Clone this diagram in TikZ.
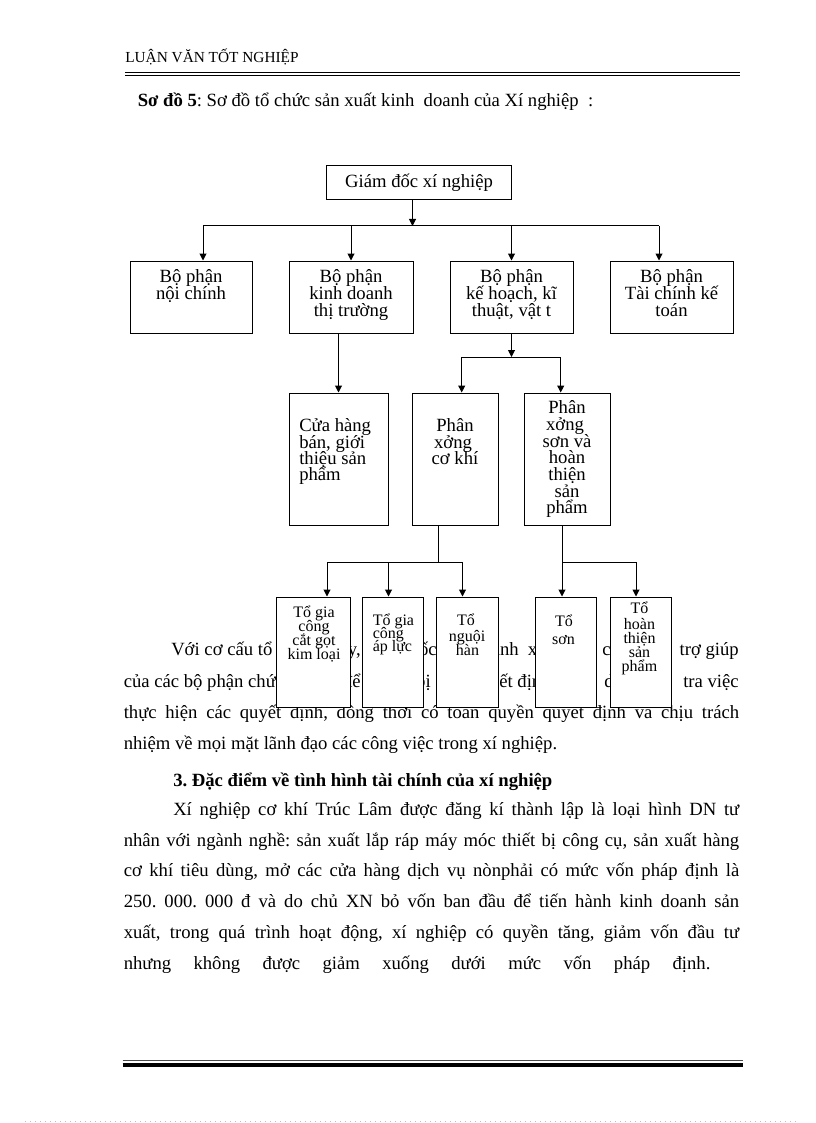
\documentclass[tikz,border=0pt]{standalone}
\usepackage{fontspec}
\setmainfont{Liberation Serif}
\usetikzlibrary{arrows.meta}
\frenchspacing
\begin{document}
\begin{tikzpicture}[x=0.75pt,y=-0.75pt,
  box/.style={draw, line width=0.75pt, fill=white, inner sep=0pt, rectangle},
  arr/.style={line width=0.75pt, -{Triangle[width=5.25pt,length=5.25pt]}},
  ln/.style={line width=0.75pt},
  t14/.style={font=\fontsize{14pt}{17pt}\selectfont, inner sep=0pt, anchor=base},
  t14l/.style={font=\fontsize{14pt}{17pt}\selectfont, inner sep=0pt, anchor=base west},
  t12/.style={font=\fontsize{12pt}{14pt}\selectfont, inner sep=0pt, anchor=base},
  t12l/.style={font=\fontsize{12pt}{14pt}\selectfont, inner sep=0pt, anchor=base west},
  body/.style={font=\fontsize{14pt}{17pt}\selectfont\frenchspacing, inner sep=0pt, anchor=base west},
  bodyr/.style={font=\fontsize{14pt}{17pt}\selectfont\frenchspacing, inner sep=0pt, anchor=base east},
]
\useasboundingbox (0,0) rectangle (816,1123);

% header
\node[inner sep=0pt, anchor=base west, font=\fontsize{11.5pt}{13pt}\selectfont] (hdr) at (125,62.5) {LUẬN VĂN TỐT NGHIỆP};
\coordinate (h1a) at (125,72.5); \coordinate (h1b) at (740,72.5);
\coordinate (h2a) at (125,75.5); \coordinate (h2b) at (740,75.5);
\draw[ln] (h1a) -- (h1b);
\draw[ln] (h2a) -- (h2b);

\node[body] (title) at (137.5,107) {\textbf{Sơ đồ 5}: Sơ đồ tổ chức sản xuất kinh\ \ doanh của Xí nghiệp\ \ :};

% paragraph 1 (partly hidden by the lowest boxes)
\node[body]  (p1a1) at (171,655) {Với cơ cấu tổ chức};
\node[bodyr] (p1a2) at (361,655) {vậy,};
\node[bodyr] (p1a3) at (437,655) {Giám đốc};
\node[bodyr] (p1a4) at (519,655) {hành};
\node[body]  (p1a5) at (527.5,655) {xí nghiệp};
\node[body]  (p1a6) at (602,655) {có sự};
\node[bodyr] (p1a7) at (739,655) {trợ giúp};

\node[body]  (p1b1) at (123.5,687) {của các bộ phận chức năng};
\node[bodyr] (p1b2) at (361,687) {để};
\node[bodyr] (p1b3) at (431,687) {chuẩn bị};
\node[body]  (p1b4) at (471,687) {quyết định,};
\node[body]  (p1b5) at (604,687) {dõi};
\node[bodyr] (p1b6) at (739,687) {tra việc};

\node[body] (p1c) at (123.5,718.5) {\hbox to 461.6pt{thực hiện các quyết định, đồng thời có toàn quyền quyết định và chịu trách}};
\node[body] (p1d) at (123.5,749) {nhiệm về mọi mặt lãnh đạo các công việc trong xí nghiệp.};

\node[body] (sec) at (173,786) {\textbf{3. Đặc điểm về tình hình tài chính của xí nghiệp}};

\node[body] (p2a) at (173,815.5) {\hbox to 424.5pt{Xí nghiệp cơ khí Trúc Lâm được đăng kí thành lập là loại hình DN tư}};
\node[body] (p2b) at (123.5,846) {\hbox to 461.6pt{nhân với ngành nghề: sản xuất lắp ráp máy móc thiết bị công cụ, sản xuất hàng}};
\node[body] (p2c) at (123.5,876.5) {\hbox to 461.6pt{cơ khí tiêu dùng, mở các cửa hàng dịch vụ nònphải có mức vốn pháp định là}};
\node[body] (p2d) at (123.5,907.5) {\hbox to 461.6pt{250. 000. 000 đ và do chủ XN bỏ vốn ban đầu để tiến hành kinh doanh sản}};
\node[body] (p2e) at (123.5,938.5) {\hbox to 461.6pt{xuất, trong quá trình hoạt động, xí nghiệp có quyền tăng, giảm vốn đầu tư}};
\node[body] (p2f) at (123.5,969) {\hbox to 440pt{nhưng không được giảm xuống dưới mức vốn pháp định.}};

% footer
\coordinate (f1a) at (122.5,1060.5); \coordinate (f1b) at (743,1060.5);
\coordinate (f2a) at (122.5,1064.7); \coordinate (f2b) at (743,1064.7);
\draw[line width=0.75pt, black!70] (f1a) -- (f1b);
\draw[line width=3pt] (f2a) -- (f2b);
\coordinate (f3a) at (25,1121.5); \coordinate (f3b) at (796,1121.5);
\draw[line width=0.6pt, black!25, dash pattern=on 0.75pt off 3pt] (f3a) -- (f3b);

% level 1
\node[box, minimum width=138.75pt, minimum height=25.5pt] (gd) at (418.5,183) {};
\node[t14] (gdt) at (419,188) {Giám đốc xí nghiệp};

% level 2
\node[box, minimum width=91.5pt, minimum height=54pt] (b1) at (191,297) {};
\node[box, minimum width=93pt, minimum height=54pt] (b2) at (351,297) {};
\node[box, minimum width=92.25pt, minimum height=54pt] (b3) at (511.5,297) {};
\node[box, minimum width=92.25pt, minimum height=54pt] (b4) at (671.5,297) {};

\node[t14] (b1t1) at (191,282) {Bộ phận};
\node[t14] (b1t2) at (191,299) {nội chính};
\node[t14] (b2t1) at (351,282) {Bộ phận};
\node[t14] (b2t2) at (351,299) {kinh doanh};
\node[t14] (b2t3) at (351,316) {thị trường};
\node[t14] (b3t1) at (511.5,282) {Bộ phận};
\node[t14] (b3t2) at (511.5,299) {kế hoạch, kĩ};
\node[t14] (b3t3) at (511.5,316) {thuật, vật t};
\node[t14] (b4t1) at (671.5,282) {Bộ phận};
\node[t14] (b4t2) at (671.5,299) {Tài chính kế};
\node[t14] (b4t3) at (671.5,316) {toán};

% level 3
\node[box, minimum width=74.25pt, minimum height=99pt] (c1) at (338.5,459) {};
\node[box, minimum width=64.5pt, minimum height=99pt] (c2) at (455.7,459) {};
\node[box, minimum width=64.5pt, minimum height=99pt] (c3) at (567,459) {};

\node[t14l] (c1t1) at (299,431.5) {Cửa hàng};
\node[t14l] (c1t2) at (299,448) {bán, giới};
\node[t14l] (c1t3) at (299,464) {thiệu sản};
\node[t14l] (c1t4) at (299,480) {phẩm};
\node[t14] (c2t1) at (455,431.5) {Phân};
\node[t14] (c2t2) at (453,448) {xởng};
\node[t14] (c2t3) at (455,464) {cơ khí};
\node[t14] (c3t1) at (567,413) {Phân};
\node[t14] (c3t2) at (565,430) {xởng};
\node[t14] (c3t3) at (567,447) {sơn và};
\node[t14] (c3t4) at (567,463) {hoàn};
\node[t14] (c3t5) at (567,480) {thiện};
\node[t14] (c3t6) at (567,497) {sản};
\node[t14] (c3t7) at (567,513) {phẩm};

% level 4
\node[box, minimum width=55.875pt, minimum height=82.5pt] (d1) at (313.5,652) {};
\node[box, minimum width=46.125pt, minimum height=82.5pt] (d2) at (393,652) {};
\node[box, minimum width=46.875pt, minimum height=82.5pt] (d3) at (467.5,652) {};
\node[box, minimum width=45.75pt, minimum height=82.5pt] (d4) at (566,652) {};
\node[box, minimum width=46.125pt, minimum height=82.5pt] (d5) at (641,652) {};

\node[t12] (d1t1) at (314,617) {Tổ gia};
\node[t12] (d1t2) at (314,631) {công};
\node[t12] (d1t3) at (314,645) {cắt gọt};
\node[t12] (d1t4) at (314,659) {kim loại};
\node[t12l] (d2t1) at (372.5,625.5) {Tổ gia};
\node[t12l] (d2t2) at (372.5,638.5) {công};
\node[t12l] (d2t3) at (372.5,651.5) {áp lực};
\node[t12] (d3t1) at (466,625) {Tổ};
\node[t12] (d3t2) at (467,641) {nguội};
\node[t12] (d3t3) at (467.5,655.5) {hàn};
\node[t12] (d4t1) at (564,626) {Tổ};
\node[t12] (d4t2) at (563.5,644) {sơn};
\node[t12] (d5t1) at (639.5,613) {Tổ};
\node[t12] (d5t2) at (639.5,629.5) {hoàn};
\node[t12] (d5t3) at (639.5,643) {thiện};
\node[t12] (d5t4) at (639.5,657) {sản};
\node[t12] (d5t5) at (639.5,671.5) {phẩm};

% connectors level 1 -> 2
\coordinate (j1) at (412.5,226);
\coordinate (ja) at (203,226);
\coordinate (jb) at (351,226);
\coordinate (jc) at (511.5,226);
\coordinate (jd) at (659,226);
\draw[arr] (j1 |- gd.south) -- (j1);
\draw[ln] (ja) -- (jd);
\draw[arr] (ja) -- (ja |- b1.north);
\draw[arr] (jb) -- (jb |- b2.north);
\draw[arr] (jc) -- (jc |- b3.north);
\draw[arr] (jd) -- (jd |- b4.north);

% level 2 -> 3
\draw[arr] (b2.south -| c1.north) -- (c1.north);
\coordinate (j2) at (511.5,357);
\coordinate (j2l) at (461.7,357);
\coordinate (j2r) at (560.7,357);
\draw[arr] (b3.south) -- (j2);
\draw[ln] (j2l) -- (j2r);
\draw[arr] (j2l) -- (j2l |- c2.north);
\draw[arr] (j2r) -- (j2r |- c3.north);

% level 3 -> 4
\coordinate (j3) at (438.7,562);
\coordinate (k1) at (327,562);
\coordinate (k2) at (388.5,562);
\coordinate (k3) at (462.5,562);
\draw[ln] (c2.south -| j3) -- (j3);
\draw[ln] (k1) -- (k3);
\draw[arr] (k1) -- (k1 |- d1.north);
\draw[arr] (k2) -- (k2 |- d2.north);
\draw[arr] (k3) -- (k3 |- d3.north);
\coordinate (j4) at (562,562);
\coordinate (k5) at (636,562);
\draw[ln] (c3.south -| j4) -- (j4);
\draw[ln] (j4) -- (k5);
\draw[arr] (j4) -- (j4 |- d4.north);
\draw[arr] (k5) -- (k5 |- d5.north);
\end{tikzpicture}
\end{document}
